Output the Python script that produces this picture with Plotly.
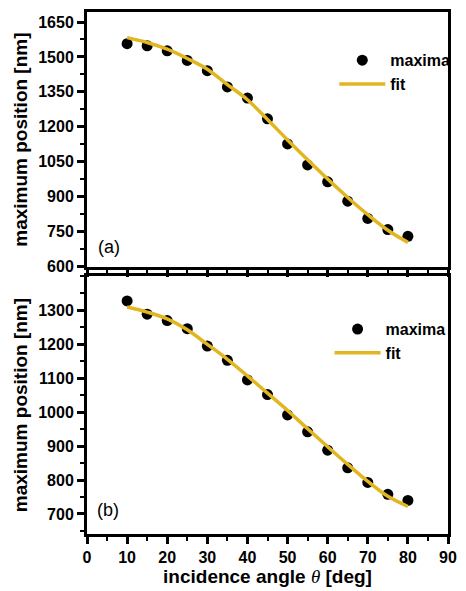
import plotly.graph_objects as go

# ---- data ----
angles = [10, 15, 20, 25, 30, 35, 40, 45, 50, 55, 60, 65, 70, 75, 80]

maxima_a = [1557, 1548, 1526, 1485, 1441, 1371, 1323, 1234, 1126, 1036, 963, 880, 806, 758, 729]
fit_a = [1583, 1562, 1533, 1493, 1447, 1381, 1316, 1231, 1143, 1058, 975, 896, 822, 755, 703]

maxima_b = [1328, 1289, 1270, 1246, 1195, 1153, 1095, 1052, 992, 942, 888, 836, 793, 758, 740]
fit_b = [1310, 1295, 1275, 1243, 1200, 1156, 1107, 1056, 1005, 951, 898, 846, 796, 752, 722]

x_ticks = [0, 10, 20, 30, 40, 50, 60, 70, 80, 90]
y_ticks_a = [600, 750, 900, 1050, 1200, 1350, 1500, 1650]
y_ticks_b = [700, 800, 900, 1000, 1100, 1200, 1300]

GOLD = "#E2B620"
FONT = "Arial, Liberation Sans, sans-serif"

fig = go.Figure()

# panel (a)
fig.add_trace(go.Scatter(x=angles, y=maxima_a, mode="markers", name="maxima",
                         marker=dict(color="black", size=11),
                         xaxis="x", yaxis="y", legend="legend"))
fig.add_trace(go.Scatter(x=angles, y=fit_a, mode="lines", name="fit",
                         line=dict(color=GOLD, width=3.5, shape="spline"),
                         xaxis="x", yaxis="y", legend="legend"))
# panel (b)
fig.add_trace(go.Scatter(x=angles, y=maxima_b, mode="markers", name="maxima",
                         marker=dict(color="black", size=11),
                         xaxis="x2", yaxis="y2", legend="legend2"))
fig.add_trace(go.Scatter(x=angles, y=fit_b, mode="lines", name="fit",
                         line=dict(color=GOLD, width=3.5, shape="spline"),
                         xaxis="x2", yaxis="y2", legend="legend2"))

tickfont = dict(family=FONT, size=16, color="black", weight="bold")
common_axis = dict(showline=True, linewidth=3, linecolor="black", mirror=True,
                   ticks="outside", ticklen=7, tickwidth=2.5, tickcolor="black",
                   showgrid=False, zeroline=False, tickfont=tickfont)

ytitle = dict(text="maximum position [nm]",
              font=dict(family=FONT, size=19, color="black", weight="bold"),
              standoff=6)

legfont = dict(family=FONT, size=16, color="black", weight="bold")

fig.update_layout(
    width=466, height=591,
    margin=dict(l=87, r=9, t=10, b=55),
    paper_bgcolor="white", plot_bgcolor="white",
    showlegend=True,
    xaxis=dict(domain=[0, 1], range=[0, 90], tickvals=x_ticks, showticklabels=False,
               anchor="y",
               minor=dict(dtick=5, tick0=0, ticklen=4, tickwidth=2, tickcolor="black", ticks="outside"),
               **common_axis),
    yaxis=dict(domain=[0.511, 1], range=[596, 1693], tickvals=y_ticks_a, anchor="x",
               minor=dict(dtick=75, tick0=600, ticklen=4, tickwidth=2, tickcolor="black", ticks="outside"),
               title=ytitle, **common_axis),
    xaxis2=dict(domain=[0, 1], range=[0, 90], tickvals=x_ticks, anchor="y2",
                minor=dict(dtick=5, tick0=0, ticklen=4, tickwidth=2, tickcolor="black", ticks="outside"),
                title=dict(text="incidence angle <span style='font-family:Liberation Serif;font-style:italic;font-weight:normal'>θ</span> [deg]",
                           font=dict(family=FONT, size=19, color="black", weight="bold"),
                           standoff=2),
                **common_axis),
    yaxis2=dict(domain=[0, 0.494], range=[641, 1401], tickvals=y_ticks_b, anchor="x2",
                minor=dict(dtick=50, tick0=650, ticklen=4, tickwidth=2, tickcolor="black", ticks="outside"),
                title=ytitle, **common_axis),
    legend=dict(x=0.685, y=0.94, xanchor="left", yanchor="top",
                bgcolor="rgba(0,0,0,0)", itemwidth=46, tracegroupgap=0, font=legfont),
    legend2=dict(x=0.672, y=0.425, xanchor="left", yanchor="top",
                 bgcolor="rgba(0,0,0,0)", itemwidth=46, tracegroupgap=0, font=legfont),
    annotations=[
        dict(text="(a)", xref="x", yref="y", x=2.2, y=685, xanchor="left", yanchor="middle",
             showarrow=False, font=dict(family=FONT, size=18, color="black")),
        dict(text="(b)", xref="x2", yref="y2", x=2.0, y=713, xanchor="left", yanchor="middle",
             showarrow=False, font=dict(family=FONT, size=18, color="black")),
    ],
)

fig.write_html("out.html")
